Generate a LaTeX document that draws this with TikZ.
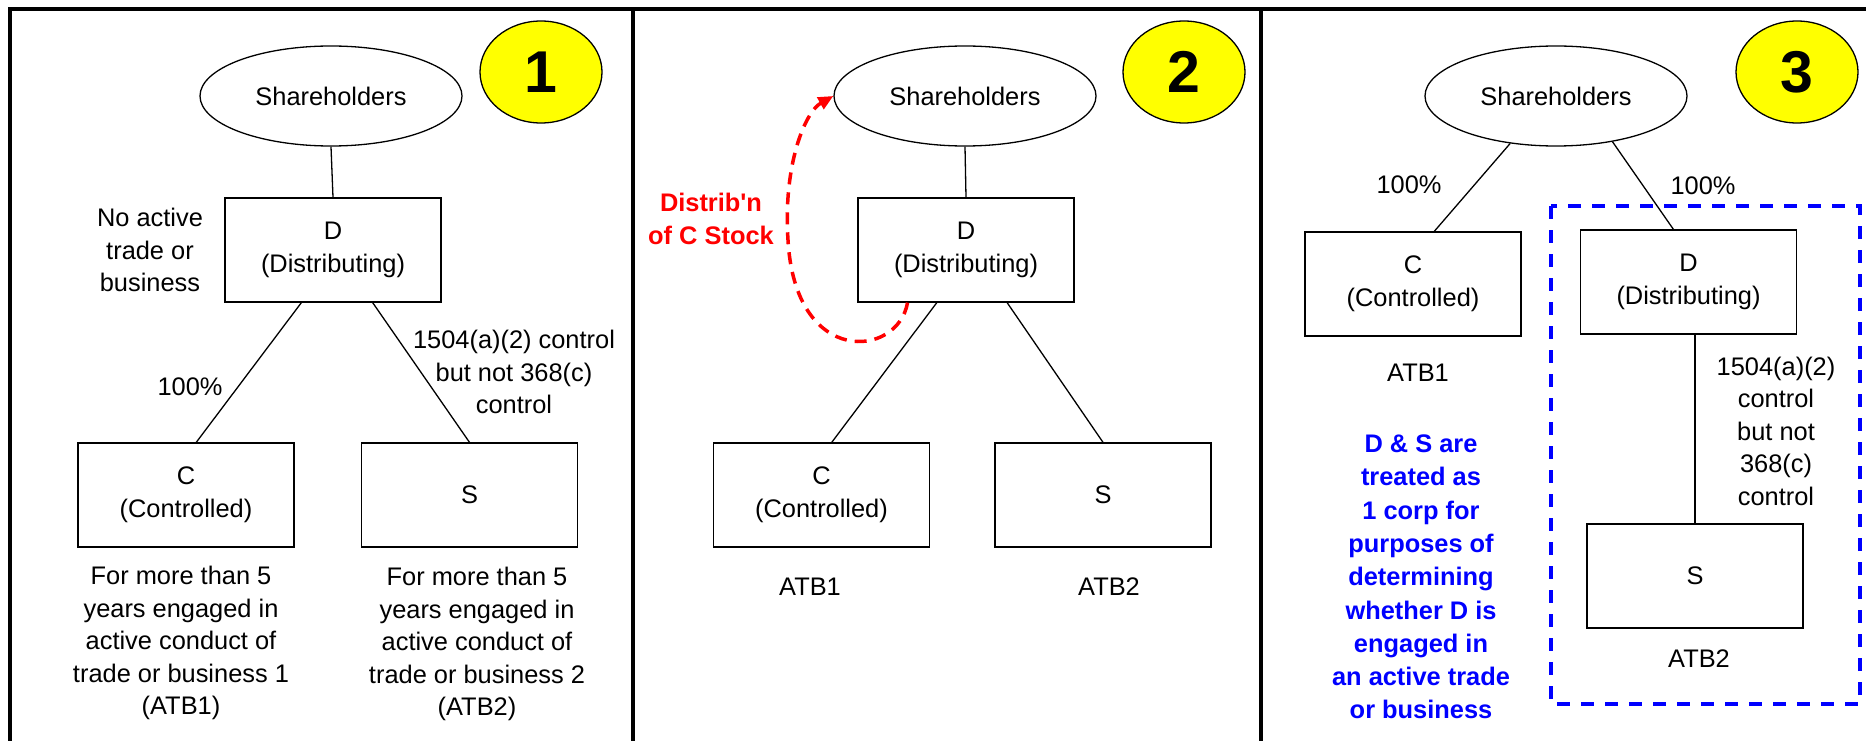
\documentclass[tikz,border=0pt]{standalone}
\usepackage{fontspec}
\setmainfont{Liberation Sans}
\usetikzlibrary{shapes.geometric,arrows.meta}
\definecolor{badgeyellow}{RGB}{255,255,0}
\definecolor{notered}{RGB}{255,0,0}
\definecolor{noteblue}{RGB}{0,0,255}
\begin{document}
\begin{tikzpicture}[x=1pt,y=-1pt,
  every node/.style={font=\fontsize{25.4}{32.5}\selectfont, align=center, inner sep=0pt},
  box/.style={draw, line width=1.3pt, minimum width=216pt, minimum height=104pt},
  oval/.style={draw, ellipse, line width=1.3pt, minimum width=262pt, minimum height=100pt},
  badge/.style={draw, ellipse, fill=badgeyellow, line width=1.3pt, minimum width=122pt, minimum height=102pt, font=\fontsize{59}{60}\selectfont\bfseries},
  link/.style={line width=1.3pt},
  frame/.style={line width=4pt},
  rednote/.style={text=notered, font=\fontsize{25.4}{32.5}\selectfont\bfseries},
  bluenote/.style={text=noteblue, font=\fontsize{25.4}{33.3}\selectfont\bfseries},
]
\useasboundingbox (0,0) rectangle (1866,741);
\fill[white] (0,0) rectangle (1866,741);
% frame
\draw[frame] (10,741) -- (10,9) -- (1866,9);
\draw[frame] (633,9) -- (633,741);
\draw[frame] (1261,9) -- (1261,741);

% ---------- Panel 1 ----------
\node[oval] (sh1) at (331,96) {Shareholders};
\node[badge] (n1) at (541,72) {1};
\node[box] (d1) at (333,250) {D\\(Distributing)};
\node[box] (c1) at (186,495) {C\\(Controlled)};
\node[box] (s1) at (469.5,495) {S};
\draw[link] (sh1.south) -- (d1.north);
\draw[link] (d1.239) -- (c1.79);
\draw[link] (d1.307.6) -- (s1.north);
\node (na1) at (150,250) {No active\\trade or\\business};
\node (p1) at (190,387) {100\%};
\node (ctl1) at (514,372) {1504(a)(2) control\\but not 368(c)\\control};
\node (ct1) at (181,643) {For more than 5\\years engaged in\\active conduct of\\trade or business 1\\(ATB1)};
\node (st1) at (477,644) {For more than 5\\years engaged in\\active conduct of\\trade or business 2\\(ATB2)};

% ---------- Panel 2 ----------
\node[oval] (sh2) at (965,96) {Shareholders};
\node[badge] (n2) at (1184,72) {2};
\node[box] (d2) at (966,250) {D\\(Distributing)};
\node[box] (c2) at (821.5,495) {C\\(Controlled)};
\node[box] (s2) at (1103,495) {S};
\draw[link] (sh2.south) -- (d2.north);
\draw[link] (d2.241.7) -- (c2.79.6);
\draw[link] (d2.308) -- (s2.north);
\node (a21) at (810,587) {ATB1};
\node (a22) at (1109,587) {ATB2};
\node[rednote] (dist) at (711,219) {Distrib\textquotesingle n\\of C Stock};
\draw[notered, line width=3.5pt, dash pattern=on 12pt off 8pt,
      -{Triangle[length=15pt,width=13pt]}]
  (d2.222) .. controls (898,358) and (795,368) .. (788,240)
           .. controls (783,165) and (805,112) .. (sh2.west);

% ---------- Panel 3 ----------
\node[oval] (sh3) at (1556,96) {Shareholders};
\node[badge] (n3) at (1797,72) {3};
\node[box] (c3) at (1413,284) {C\\(Controlled)};
\node[box] (d3) at (1688.5,282) {D\\(Distributing)};
\node[box] (s3) at (1695,576) {S};
\draw[link] (sh3.226.9) -- (c3.68);
\draw[link] (sh3.321.2) -- (d3.106.6);
\draw[link] (s3.north) -- (s3.north |- d3.south);
\node (p31) at (1409,185) {100\%};
\node (p32) at (1703,186) {100\%};
\node (a31) at (1418,373) {ATB1};
\node (a32) at (1699,659) {ATB2};
\node (ctl3) at (1776,431) {1504(a)(2)\\control\\but not\\368(c)\\control};
\node[bluenote] (note3) at (1421,577) {D \& S are\\treated as\\1 corp for\\purposes of\\determining\\whether D is\\engaged in\\an active trade\\or business};
\draw[noteblue, line width=3.5pt, dash pattern=on 13pt off 11pt] (1551,206) rectangle (1860,704);
\end{tikzpicture}
\end{document}
